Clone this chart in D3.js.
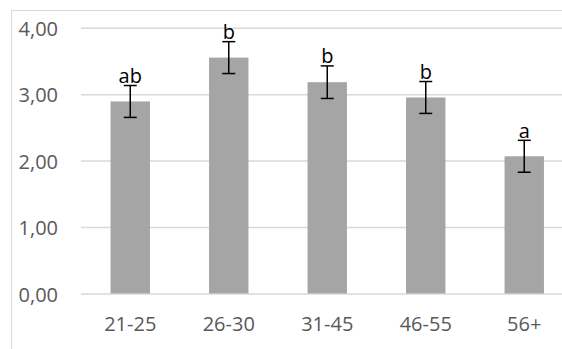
<!DOCTYPE html>
<html>
<head>
<meta charset="utf-8">
<script src="https://cdn.jsdelivr.net/npm/d3@7"></script>
<style>
  body { margin: 0; background: #fff; }
  svg { display: block; }
</style>
</head>
<body>
<script>
//## Data

const categories = ["21-25", "26-30", "31-45", "46-55", "56+"];
const means = [2.89, 3.55, 3.18, 2.95, 2.065];
const errors = [0.24, 0.24, 0.245, 0.24, 0.24];
const letters = ["ab", "b", "b", "b", "a"];
const yTicks = [0, 1, 2, 3, 4];

//## Chart

const width = 562, height = 349;
const fontFamily = "'Open Sans', sans-serif";
const textColor = "#595959";

const svg = d3.select("body").append("svg")
  .attr("width", width)
  .attr("height", height);

// chart area border (cropped on right and bottom)
svg.append("rect")
  .attr("x", 11.5)
  .attr("y", 10.5)
  .attr("width", 700)
  .attr("height", 500)
  .attr("fill", "none")
  .attr("stroke", "#d9d9d9");

const x = d3.scaleBand()
  .domain(categories)
  .range([81, 573.5])
  .paddingInner(0.6)
  .paddingOuter(0.3);

const y = d3.scaleLinear()
  .domain([0, 4])
  .range([293.5, 27.7]);

// gridlines + y labels
const yAxis = svg.append("g")
  .attr("transform", "translate(81,0)")
  .call(d3.axisLeft(y).tickValues(yTicks).tickSize(-(573.5 - 81)).tickPadding(23)
    .tickFormat((d) => d3.format(".2f")(d).replace(".", ",")));
yAxis.select(".domain").remove();
yAxis.selectAll(".tick line").attr("stroke", "#d9d9d9").attr("stroke-width", 1.5);
yAxis.selectAll(".tick text")
  .attr("fill", textColor)
  .attr("dy", "0.38em")
  .style("font-family", fontFamily)
  .style("font-size", "20px");

// bars
svg.append("g")
  .selectAll("rect")
  .data(means)
  .join("rect")
  .attr("x", (d, i) => x(categories[i]))
  .attr("width", x.bandwidth())
  .attr("y", (d) => y(d))
  .attr("height", (d) => y(0) - y(d))
  .attr("fill", "#a5a5a5");

// error bars
const cap = 6.5;
const err = svg.append("g")
  .attr("stroke", "#000")
  .attr("stroke-width", 1.5)
  .selectAll("g")
  .data(means)
  .join("g")
  .attr("transform", (d, i) => `translate(${x(categories[i]) + x.bandwidth() / 2},0)`);
err.append("line")
  .attr("y1", (d, i) => y(d + errors[i]))
  .attr("y2", (d, i) => y(d - errors[i]));
err.append("line")
  .attr("x1", -cap).attr("x2", cap)
  .attr("y1", (d, i) => y(d + errors[i]))
  .attr("y2", (d, i) => y(d + errors[i]));
err.append("line")
  .attr("x1", -cap).attr("x2", cap)
  .attr("y1", (d, i) => y(d - errors[i]))
  .attr("y2", (d, i) => y(d - errors[i]));

// significance letters
svg.append("g")
  .selectAll("text")
  .data(means)
  .join("text")
  .attr("x", (d, i) => x(categories[i]) + x.bandwidth() / 2)
  .attr("y", (d, i) => y(d + errors[i]) - 2.5)
  .attr("text-anchor", "middle")
  .attr("fill", "#000")
  .style("font-family", fontFamily)
  .style("font-size", "20px")
  .text((d, i) => letters[i]);

// x labels
const xAxis = svg.append("g")
  .attr("transform", `translate(0,${y(0)})`)
  .call(d3.axisBottom(x).tickSize(0).tickPadding(23));
xAxis.select(".domain").remove();
xAxis.selectAll(".tick text")
  .attr("fill", textColor)
  .style("font-family", fontFamily)
  .style("font-size", "20px");
</script>
</body>
</html>
